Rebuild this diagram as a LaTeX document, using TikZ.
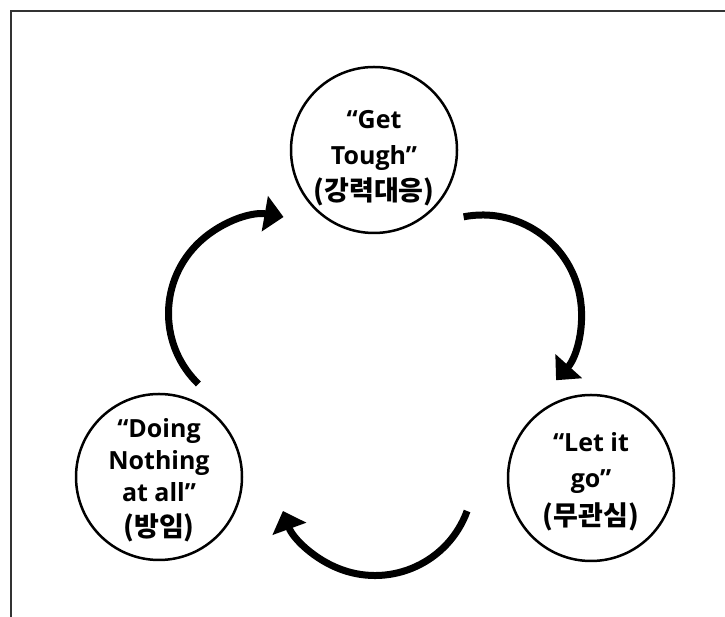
\documentclass[tikz,border=0pt]{standalone}
\usepackage{fontspec}
\setmainfont{Open Sans}
\newfontfamily\kr{Noto Sans CJK KR}
\usetikzlibrary{arrows.meta,calc}

\begin{document}
\begin{tikzpicture}[x=1pt, y=1pt,
    phase/.style={circle, draw, line width=2.5pt, minimum size=166pt, inner sep=0pt,
        align=center, font=\fontsize{25}{36}\selectfont\bfseries},
    flow/.style={line width=7pt, -{Triangle[length=19pt, width=35pt]}}]
    \useasboundingbox (0,0) rectangle (725,617);

    % Frame
    \draw[line width=1.2pt, black!80] (11,0) -- (11,606) -- (725,606);

    % Circles
    \node[phase] (tough) at (374,467)
        {\rule{0pt}{34pt}“Get\\Tough”\\{\kr\fontsize{27}{36}\selectfont(강력대응)}};
    \node[phase] (letgo) at (591,139)
        {\rule{0pt}{27pt}“Let it\\go”\\[2pt]{\kr\fontsize{27}{36}\selectfont(무관심)}};
    \node[phase, font=\fontsize{25}{32}\selectfont\bfseries] (nothing) at (159,140)
        {\rule{0pt}{25pt}“Doing\\Nothing\\at all”\\[3pt]{\kr\fontsize{27}{32}\selectfont(방임)}};

    % Arrows
    \draw[flow] ($(tough)!0.5!(letgo)$) ++(101:99) arc[start angle=101, end angle=-42, radius=99];
    \draw[flow] ($(letgo)!0.5!(nothing)$) ++(-20:98) arc[start angle=-20, end angle=-160, radius=98];
    \draw[flow] ($(nothing)!0.5!(tough)$) ++(226:98) arc[start angle=226, end angle=80, radius=98];
\end{tikzpicture}
\end{document}
